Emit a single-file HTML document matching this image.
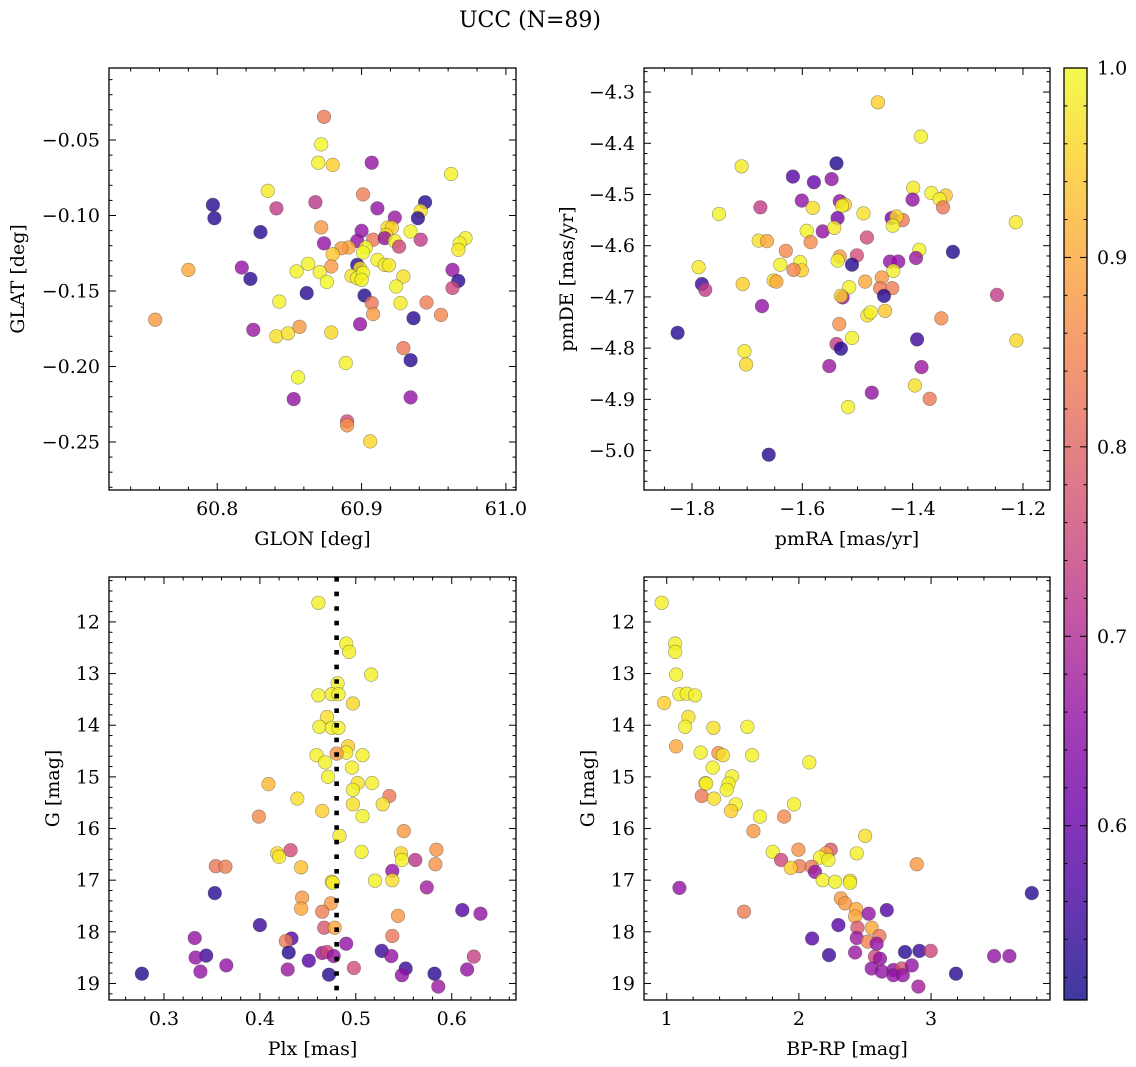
<!DOCTYPE html>
<html><head><meta charset="utf-8"><title>UCC (N=89)</title>
<style>
html,body{margin:0;padding:0;background:#fff;}
svg{display:block;font-family:"DejaVu Serif","Liberation Serif",serif;}
</style></head>
<body>
<svg id="fig" width="1136" height="1067" viewBox="0 0 1136 1067" xmlns="http://www.w3.org/2000/svg">
<defs>
<linearGradient id="plasma" x1="0" y1="1" x2="0" y2="0">
<stop offset="0" stop-color="#0d0887"/><stop offset="0.1" stop-color="#41049d"/><stop offset="0.2" stop-color="#6a00a8"/><stop offset="0.3" stop-color="#8f0da4"/><stop offset="0.4" stop-color="#b12a90"/><stop offset="0.5" stop-color="#cc4778"/><stop offset="0.6" stop-color="#e16462"/><stop offset="0.7" stop-color="#f2844b"/><stop offset="0.8" stop-color="#fca636"/><stop offset="0.9" stop-color="#fcce25"/><stop offset="1" stop-color="#f0f921"/>
</linearGradient>
</defs>
<text x="530" y="27" font-size="22" text-anchor="middle">UCC (N=89)</text>
</svg>
<script>
// ---- Panel 1: GLON vs GLAT ----
const glon1 = [60.874,60.872,60.870,60.880,60.907,60.962,60.835,60.901,60.797,60.798,60.841,60.868,60.911,60.944,60.941,60.939,60.923,60.830,60.872,60.900,60.918,60.921,60.917,60.934,60.941,60.908,60.916,60.923,60.926,60.897,60.874,60.972,60.968,60.967,60.891,60.886,60.903,60.901,60.880,60.879,60.817,60.823,60.780,60.757,60.863,60.855,60.871,60.876,60.897,60.899,60.911,60.916,60.919,60.893,60.897,60.901,60.900,60.929,60.924,60.963,60.967,60.963,60.862,60.902,60.907,60.908,60.927,60.945,60.955,60.936,60.843,60.899,60.825,60.841,60.849,60.857,60.879,60.929,60.934,60.889,60.856,60.853,60.934,60.890,60.890,60.906];
const glat1 = [-0.0346,-0.0529,-0.065,-0.0665,-0.065,-0.0725,-0.0837,-0.086,-0.093,-0.1018,-0.0952,-0.0912,-0.0952,-0.0912,-0.097,-0.1018,-0.1014,-0.111,-0.1078,-0.1102,-0.108,-0.108,-0.113,-0.1106,-0.116,-0.116,-0.115,-0.117,-0.1206,-0.1168,-0.1184,-0.115,-0.1184,-0.1228,-0.1212,-0.1217,-0.1212,-0.1245,-0.1256,-0.1338,-0.1345,-0.142,-0.136,-0.169,-0.132,-0.137,-0.1375,-0.144,-0.1327,-0.135,-0.1294,-0.1327,-0.133,-0.140,-0.1415,-0.138,-0.1426,-0.1404,-0.147,-0.136,-0.1433,-0.148,-0.1514,-0.153,-0.158,-0.1653,-0.158,-0.1576,-0.1658,-0.168,-0.157,-0.172,-0.1757,-0.180,-0.178,-0.1737,-0.1775,-0.1878,-0.1958,-0.1977,-0.2072,-0.2216,-0.2205,-0.2363,-0.239,-0.2496];
const prob1 = [0.83,1.0,0.99,0.95,0.66,0.99,0.98,0.84,0.53,0.53,0.73,0.72,0.66,0.53,0.97,0.53,0.67,0.53,0.88,0.66,0.97,0.95,0.97,0.99,0.73,0.83,0.66,0.99,0.75,0.66,0.66,0.99,0.99,0.98,0.9,0.88,0.99,1.0,0.94,0.88,0.66,0.53,0.9,0.88,0.99,0.99,0.99,1.0,0.53,0.97,0.99,0.98,0.98,0.97,0.99,1.0,0.99,0.97,0.99,0.66,0.53,0.75,0.53,0.52,0.83,0.88,0.98,0.84,0.85,0.53,0.99,0.66,0.67,0.97,0.97,0.88,0.96,0.83,0.53,0.99,1.0,0.66,0.66,0.76,0.87,0.96];
// ---- Panel 2: pmRA vs pmDE ----
const pmra2 = [-1.463,-1.385,-1.710,-1.538,-1.617,-1.579,-1.547,-1.399,-1.366,-1.340,-1.351,-1.345,-1.400,-1.601,-1.676,-1.751,-1.581,-1.532,-1.523,-1.528,-1.536,-1.489,-1.438,-1.418,-1.429,-1.436,-1.213,-1.592,-1.563,-1.542,-1.483,-1.679,-1.664,-1.585,-1.630,-1.388,-1.394,-1.327,-1.501,-1.532,-1.536,-1.510,-1.441,-1.426,-1.788,-1.640,-1.604,-1.601,-1.616,-1.435,-1.782,-1.776,-1.708,-1.652,-1.647,-1.456,-1.486,-1.515,-1.527,-1.530,-1.459,-1.437,-1.452,-1.247,-1.673,-1.450,-1.482,-1.476,-1.348,-1.826,-1.533,-1.510,-1.212,-1.392,-1.538,-1.530,-1.705,-1.702,-1.551,-1.384,-1.396,-1.474,-1.369,-1.517,-1.661];
const pmde2 = [-4.320,-4.387,-4.445,-4.439,-4.465,-4.476,-4.470,-4.487,-4.497,-4.502,-4.509,-4.525,-4.510,-4.512,-4.525,-4.538,-4.526,-4.513,-4.520,-4.522,-4.546,-4.537,-4.546,-4.550,-4.543,-4.561,-4.554,-4.571,-4.572,-4.565,-4.584,-4.590,-4.591,-4.593,-4.610,-4.608,-4.624,-4.612,-4.619,-4.621,-4.629,-4.637,-4.631,-4.631,-4.642,-4.637,-4.632,-4.648,-4.647,-4.649,-4.675,-4.686,-4.675,-4.668,-4.670,-4.662,-4.670,-4.681,-4.701,-4.698,-4.683,-4.683,-4.698,-4.696,-4.718,-4.727,-4.736,-4.730,-4.742,-4.770,-4.753,-4.780,-4.785,-4.783,-4.792,-4.801,-4.806,-4.832,-4.835,-4.837,-4.873,-4.887,-4.899,-4.915,-5.008];
const prob2 = [0.95,0.99,0.98,0.52,0.58,0.6,0.66,0.98,0.99,0.94,0.99,0.83,0.66,0.66,0.73,0.99,0.97,0.66,0.95,0.99,0.62,0.97,0.62,0.83,0.96,0.99,0.98,0.99,0.66,0.98,0.76,0.97,0.9,0.86,0.86,0.99,0.67,0.52,0.76,0.88,0.99,0.53,0.66,0.66,0.98,0.99,0.99,0.95,0.85,0.99,0.55,0.73,0.95,0.97,0.9,0.88,0.9,0.99,0.66,0.95,0.84,0.84,0.53,0.73,0.66,0.94,0.97,0.99,0.86,0.53,0.87,0.99,0.96,0.55,0.73,0.53,0.98,0.96,0.67,0.67,0.97,0.66,0.83,0.99,0.53];
// ---- Panel 3: Plx vs G ----
const plx3 = [0.461,0.490,0.493,0.516,0.481,0.461,0.475,0.482,0.497,0.470,0.462,0.475,0.482,0.492,0.490,0.480,0.459,0.507,0.468,0.496,0.471,0.502,0.517,0.497,0.409,0.439,0.535,0.528,0.497,0.465,0.507,0.399,0.483,0.550,0.432,0.418,0.420,0.506,0.547,0.548,0.562,0.584,0.583,0.354,0.364,0.443,0.538,0.538,0.520,0.475,0.476,0.574,0.353,0.444,0.443,0.474,0.465,0.611,0.630,0.544,0.400,0.467,0.478,0.332,0.433,0.427,0.538,0.490,0.430,0.344,0.333,0.465,0.470,0.477,0.451,0.527,0.537,0.623,0.365,0.498,0.429,0.552,0.616,0.277,0.338,0.472,0.548,0.582,0.586];
const g3 = [11.63,12.42,12.58,13.02,13.19,13.42,13.40,13.40,13.58,13.84,14.03,14.05,14.05,14.41,14.53,14.55,14.58,14.58,14.72,14.82,15.0,15.12,15.12,15.25,15.14,15.42,15.37,15.53,15.53,15.66,15.76,15.77,16.14,16.05,16.42,16.48,16.55,16.45,16.48,16.61,16.61,16.41,16.69,16.73,16.74,16.75,16.82,17.0,17.01,17.03,17.05,17.14,17.25,17.34,17.55,17.45,17.61,17.58,17.65,17.69,17.87,17.92,17.92,18.12,18.13,18.18,18.08,18.23,18.40,18.46,18.50,18.41,18.39,18.47,18.56,18.37,18.47,18.48,18.65,18.70,18.73,18.71,18.73,18.81,18.77,18.83,18.84,18.81,19.06];
const prob3 = [0.99,0.99,0.99,0.99,0.99,0.99,0.98,0.99,0.96,0.97,0.99,0.99,0.99,0.95,0.99,0.88,0.99,0.99,0.99,0.99,0.99,0.97,0.99,0.99,0.92,0.97,0.83,0.97,0.97,0.95,0.99,0.86,0.98,0.88,0.76,0.96,0.98,0.99,0.96,0.99,0.72,0.87,0.87,0.83,0.84,0.93,0.66,0.97,0.99,0.95,0.99,0.68,0.53,0.88,0.9,0.88,0.84,0.58,0.66,0.88,0.55,0.78,0.9,0.66,0.58,0.84,0.83,0.66,0.53,0.55,0.66,0.67,0.75,0.66,0.58,0.55,0.66,0.74,0.66,0.76,0.67,0.55,0.66,0.52,0.66,0.53,0.66,0.53,0.67];
const plxRef = 0.48;
// ---- Panel 4: BP-RP vs G ----
const bprp4 = [0.962,1.063,1.063,1.071,0.980,1.096,1.151,1.214,1.164,1.139,1.353,1.610,1.071,1.257,1.391,1.424,1.646,2.079,1.348,1.494,1.293,1.298,1.467,1.454,1.265,1.358,1.522,1.487,1.963,1.706,1.888,1.656,2.501,1.802,1.865,1.996,2.241,2.206,2.160,2.223,2.438,2.004,1.938,2.097,2.122,2.892,1.096,2.180,2.274,2.387,2.387,3.762,2.317,2.350,2.433,2.425,1.585,2.528,2.665,2.299,2.443,2.551,2.100,2.438,2.521,2.609,2.589,2.228,2.425,2.803,2.912,2.997,2.576,2.614,3.477,3.593,2.551,2.627,2.715,2.778,2.854,2.715,2.786,3.189,2.904];
const g4 = [11.63,12.42,12.58,13.02,13.57,13.40,13.39,13.42,13.84,14.03,14.05,14.03,14.41,14.53,14.54,14.58,14.58,14.72,14.82,14.99,15.12,15.13,15.13,15.25,15.37,15.42,15.53,15.66,15.53,15.77,15.77,16.05,16.14,16.45,16.61,16.41,16.41,16.48,16.56,16.61,16.48,16.73,16.76,16.74,16.84,16.69,17.15,17.0,17.03,17.01,17.05,17.25,17.35,17.45,17.56,17.70,17.61,17.65,17.58,17.87,17.92,17.92,18.13,18.12,18.19,18.08,18.23,18.45,18.40,18.39,18.37,18.37,18.48,18.52,18.47,18.47,18.71,18.77,18.74,18.71,18.65,18.84,18.84,18.81,19.06];
const prob4 = [0.99,0.99,0.99,0.99,0.95,0.99,0.99,0.99,0.97,0.99,0.97,0.99,0.9,0.99,0.88,0.97,0.99,0.99,0.99,0.99,0.95,0.99,0.99,0.99,0.83,0.97,0.99,0.95,0.99,0.99,0.86,0.88,0.97,0.99,0.75,0.87,0.78,0.9,0.99,0.99,0.99,0.84,0.95,0.83,0.66,0.88,0.66,0.99,0.99,0.97,0.99,0.53,0.88,0.88,0.9,0.9,0.84,0.66,0.58,0.58,0.78,0.9,0.58,0.67,0.85,0.83,0.66,0.55,0.67,0.53,0.55,0.75,0.75,0.66,0.66,0.66,0.66,0.66,0.66,0.77,0.66,0.66,0.66,0.53,0.68];
// colorbar ticks
const cbTicks = [0.6,0.7,0.8,0.9,1.0];
const cbMin = 0.508, cbMax = 1.0;

const NS = "http://www.w3.org/2000/svg";
const svg = document.getElementById('fig');
const plasmaStops = ["#0d0887","#41049d","#6a00a8","#8f0da4","#b12a90","#cc4778","#e16462","#f2844b","#fca636","#fcce25","#f0f921"];
function hex2rgb(h){return [parseInt(h.slice(1,3),16),parseInt(h.slice(3,5),16),parseInt(h.slice(5,7),16)];}
function plasma(v){
  let t=(v-cbMin)/(cbMax-cbMin); t=Math.max(0,Math.min(1,t));
  const s=t*10, i=Math.min(9,Math.floor(s)), f=s-i;
  const a=hex2rgb(plasmaStops[i]), b=hex2rgb(plasmaStops[i+1]);
  return 'rgb('+a.map((c,k)=>Math.round(c+(b[k]-c)*f)).join(',')+')';
}
function el(tag, attrs, parent){
  const e=document.createElementNS(NS,tag);
  for(const k in attrs) e.setAttribute(k,attrs[k]);
  (parent||svg).appendChild(e); return e;
}
function fmt(v,d){ const s=Math.abs(v).toFixed(d); return (v< -1e-9?'\u2212':'')+s; }
const FS = 19;

function panel(cfg){
  const g=el('g',{});
  
  
  const X=v=>cfg.px[0]+(v-cfg.xd[0])/(cfg.xd[1]-cfg.xd[0])*(cfg.px[1]-cfg.px[0]);
  const Y=v=>cfg.py[0]+(v-cfg.yd[0])/(cfg.yd[1]-cfg.yd[0])*(cfg.py[1]-cfg.py[0]);
  const [x0,x1]=cfg.px, [y0,y1]=cfg.py;
  const pg=el('g',{},g);
  
  
  for(let i=0;i<cfg.xs.length;i++){
    const c=el('circle',{cx:X(cfg.xs[i]).toFixed(1),cy:Y(cfg.ys[i]).toFixed(1),r:6.8,fill:plasma(cfg.c[i]),'fill-opacity':0.8,stroke:'rgba(60,60,60,0.5)','stroke-width':0.6},pg);
    
    
  }
  if(cfg.vline!==undefined){
    const l=el('line',{x1:X(cfg.vline),x2:X(cfg.vline),y1:y0,y2:y1,stroke:'#000','stroke-width':4.6,'stroke-dasharray':'4.6 10'},g);
    
    
  }
  const fr=el('rect',{x:x0,y:y0,width:x1-x0,height:y1-y0,fill:'none',stroke:'#000','stroke-width':1.3},g);
  
  
  const tk=el('g',{stroke:'#000','stroke-width':1},g);
  const isMajor=(v,maj)=>maj.some(m=>Math.abs(m-v)<1e-6);
  const xlo=Math.min(...cfg.xd), xhi=Math.max(...cfg.xd);
  for(let k=Math.ceil(xlo/cfg.xmin-1e-6);k*cfg.xmin<=xhi+1e-9;k++){
    const v=k*cfg.xmin; if(isMajor(v,cfg.xmaj)) continue; const x=X(v);
    el('line',{x1:x,x2:x,y1:y1,y2:y1-3.5},tk); el('line',{x1:x,x2:x,y1:y0,y2:y0+3.5},tk);
  }
  cfg.xmaj.forEach(v=>{const x=X(v);
    el('line',{x1:x,x2:x,y1:y1,y2:y1-7},tk); el('line',{x1:x,x2:x,y1:y0,y2:y0+7},tk);
    const t=el('text',{x:x,y:y1+25,'font-size':FS,'text-anchor':'middle'},g); t.textContent=fmt(v,cfg.xdec);
    
    
  });
  const ylo=Math.min(...cfg.yd), yhi=Math.max(...cfg.yd);
  for(let k=Math.ceil(ylo/cfg.ymin-1e-6);k*cfg.ymin<=yhi+1e-9;k++){
    const v=k*cfg.ymin; if(isMajor(v,cfg.ymaj)) continue; const y=Y(v);
    el('line',{x1:x0,x2:x0+3.5,y1:y,y2:y},tk); el('line',{x1:x1,x2:x1-3.5,y1:y,y2:y},tk);
  }
  cfg.ymaj.forEach(v=>{const y=Y(v);
    el('line',{x1:x0,x2:x0+7,y1:y,y2:y},tk); el('line',{x1:x1,x2:x1-7,y1:y,y2:y},tk);
    const t=el('text',{x:x0-9,y:y+6.5,'font-size':FS,'text-anchor':'end'},g); t.textContent=fmt(v,cfg.ydec);
    
    
  });
  const xt=el('text',{x:(x0+x1)/2,y:y1+55,'font-size':FS,'text-anchor':'middle'},g); xt.textContent=cfg.xlabel;
  
  
  const yt=el('text',{x:0,y:0,'font-size':FS,'text-anchor':'middle',transform:`translate(${cfg.ylx},${(y0+y1)/2}) rotate(-90)`},g); yt.textContent=cfg.ylabel;
  
  
}

panel({name:'glon-glat-panel',xs:glon1,ys:glat1,c:prob1,xd:[60.725,61.007],px:[109,516],yd:[-0.0023,-0.2818],py:[68,490],
  xmaj:[60.8,60.9,61.0],xmin:0.02,xdec:1,ymaj:[-0.05,-0.10,-0.15,-0.20,-0.25],ymin:0.01,ydec:2,xlabel:'GLON [deg]',ylabel:'GLAT [deg]',ylx:24});
panel({name:'pm-panel',xs:pmra2,ys:pmde2,c:prob2,xd:[-1.887,-1.151],px:[644,1050],yd:[-4.253,-5.077],py:[68,490],
  xmaj:[-1.8,-1.6,-1.4,-1.2],xmin:0.05,xdec:1,ymaj:[-4.3,-4.4,-4.5,-4.6,-4.7,-4.8,-4.9,-5.0],ymin:0.02,ydec:1,xlabel:'pmRA [mas/yr]',ylabel:'pmDE [mas/yr]',ylx:573});
panel({name:'plx-g-panel',xs:plx3,ys:g3,c:prob3,xd:[0.2427,0.667],px:[109,516],yd:[11.13,19.32],py:[577,1000],vline:plxRef,
  xmaj:[0.3,0.4,0.5,0.6],xmin:0.02,xdec:1,ymaj:[12,13,14,15,16,17,18,19],ymin:0.2,ydec:0,xlabel:'Plx [mas]',ylabel:'G [mag]',ylx:59});
panel({name:'cmd-panel',xs:bprp4,ys:g4,c:prob4,xd:[0.828,3.900],px:[644,1050],yd:[11.13,19.32],py:[577,1000],
  xmaj:[1,2,3],xmin:0.2,xdec:0,ymaj:[12,13,14,15,16,17,18,19],ymin:0.2,ydec:0,xlabel:'BP-RP [mag]',ylabel:'G [mag]',ylx:594});

(function(){
  const cx0=1064,cx1=1087,cy0=68,cy1=1000;
  const CY=v=>cy1-(v-cbMin)/(cbMax-cbMin)*(cy1-cy0);
  const g=el('g',{});
  
  
  el('rect',{x:cx0,y:cy0,width:cx1-cx0,height:cy1-cy0,fill:'url(#plasma)','fill-opacity':0.8},g);
  el('rect',{x:cx0,y:cy0,width:cx1-cx0,height:cy1-cy0,fill:'none',stroke:'#000','stroke-width':1.3},g);
  const tk=el('g',{stroke:'#000','stroke-width':1},g);
  for(let k=Math.ceil(cbMin/0.02);k*0.02<=cbMax+1e-9;k++){
    const v=k*0.02; if(cbTicks.some(m=>Math.abs(m-v)<1e-6)) continue; const y=CY(v);
    el('line',{x1:cx1,x2:cx1-3.5,y1:y,y2:y},tk); el('line',{x1:cx0,x2:cx0+3.5,y1:y,y2:y},tk);
  }
  cbTicks.forEach(v=>{const y=CY(v);
    el('line',{x1:cx1,x2:cx1-7,y1:y,y2:y},tk); el('line',{x1:cx0,x2:cx0+7,y1:y,y2:y},tk);
    const t=el('text',{x:cx1+10,y:y+6.5,'font-size':FS},g); t.textContent=v.toFixed(1);
    
    
  });
})();
</script>
</body></html>
